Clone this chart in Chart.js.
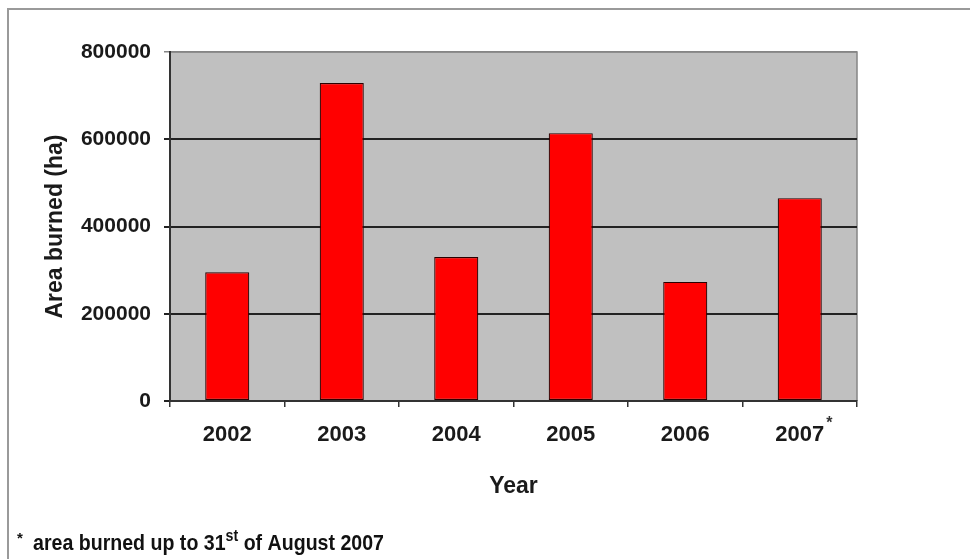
<!DOCTYPE html>
<html>
<head>
<meta charset="utf-8">
<script src="https://cdn.jsdelivr.net/npm/chart.js@4"></script>
<style>
html,body{margin:0;padding:0;background:#fff;}
#wrap{position:relative;width:970px;height:559px;}
</style>
</head>
<body>
<div id="wrap"><canvas id="c" width="970" height="559"></canvas></div>
<script>
const categories = ['2002', '2003', '2004', '2005', '2006', '2007'];
const areaBurned = [295000, 729000, 330000, 614000, 273000, 465000];
const yTicks = [0, 200000, 400000, 600000, 800000];
const xTitle = 'Year';
const yTitle = 'Area burned (ha)';
const footnote = ['*', 'area burned up to 31', 'st', ' of August 2007'];

const NARROW = '"Liberation Sans Narrow", "Arial Narrow", "Liberation Sans", Arial, sans-serif';
const WIDE = '"Liberation Sans", Arial, sans-serif';

const decor = {
  id: 'decor',
  beforeDraw(chart) {
    const ctx = chart.ctx, a = chart.chartArea;
    ctx.save();
    ctx.fillStyle = '#fff';
    ctx.fillRect(0, 0, chart.width, chart.height);
    // outer frame
    ctx.strokeStyle = '#9a9a9a';
    ctx.lineWidth = 2;
    ctx.beginPath();
    ctx.moveTo(8, 559); ctx.lineTo(8, 9); ctx.lineTo(970, 9);
    ctx.stroke();
    // plot background
    ctx.fillStyle = '#c0c0c0';
    ctx.fillRect(a.left, a.top, a.right - a.left, a.bottom - a.top);
    // plot border (top/right)
    ctx.strokeStyle = '#858585';
    ctx.lineWidth = 1.5;
    ctx.beginPath();
    ctx.moveTo(a.left, a.top); ctx.lineTo(a.right, a.top); ctx.lineTo(a.right, a.bottom);
    ctx.stroke();
    ctx.restore();
  },
  afterDraw(chart) {
    const ctx = chart.ctx;
    const xs = chart.scales.x;
    ctx.save();
    // asterisk next to last category label
    ctx.font = 'bold 22px ' + NARROW;
    const last = categories.length - 1;
    const w = ctx.measureText(categories[last]).width;
    const px = xs.getPixelForValue(last) + w / 2 + 2;
    ctx.fillStyle = '#333';
    ctx.font = 'bold 16px ' + WIDE;
    ctx.textBaseline = 'middle';
    ctx.fillText('*', px, 424);
    // footnote
    ctx.fillStyle = '#111';
    ctx.font = 'bold 15px ' + WIDE;
    ctx.textBaseline = 'alphabetic';
    ctx.fillText(footnote[0], 17, 543);
    const mainFont = 'bold 22px ' + WIDE;
    const supFont = 'bold 16px ' + WIDE;
    ctx.font = mainFont;
    const w1 = ctx.measureText(footnote[1]).width;
    const w3 = ctx.measureText(footnote[3]).width;
    ctx.font = supFont;
    const w2 = ctx.measureText(footnote[2]).width;
    const total = w1 + w2 + w3;
    const sx = (384 - 33) / total;
    ctx.translate(33, 550);
    ctx.scale(sx, 1);
    ctx.font = mainFont;
    ctx.fillText(footnote[1], 0, 0);
    ctx.font = supFont;
    ctx.fillText(footnote[2], w1, -9);
    ctx.font = mainFont;
    ctx.fillText(footnote[3], w1 + w2, 0);
    ctx.restore();
  }
};

new Chart(document.getElementById('c'), {
  type: 'bar',
  data: {
    labels: categories,
    datasets: [{
      data: areaBurned,
      backgroundColor: '#ff0000',
      borderColor: '#2a0000',
      borderWidth: 1.2,
      borderSkipped: false,
      categoryPercentage: 1,
      barPercentage: 0.385
    }]
  },
  options: {
    responsive: false,
    animation: false,
    devicePixelRatio: 1,
    layout: { padding: { left: 38, right: 113, top: 52, bottom: 58 } },
    plugins: { legend: { display: false }, tooltip: { enabled: false } },
    scales: {
      x: {
        offset: true,
        grid: { offset: true, drawOnChartArea: false, drawTicks: true, tickLength: 6, color: '#333', lineWidth: 1.5 },
        border: { display: true, color: '#333', width: 2 },
        ticks: { color: '#1a1a1a', font: { family: NARROW, size: 22, weight: 'bold' }, padding: 15 },
        title: { display: true, text: xTitle, color: '#1a1a1a', font: { family: NARROW, size: 23, weight: 'bold' }, padding: { top: 4, bottom: 1 } },
        afterFit(s) { s.height = 100; }
      },
      y: {
        min: 0, max: 800000,
        afterBuildTicks(s) { s.ticks = yTicks.map(v => ({ value: v })); },
        grid: {
          color: ctx => (ctx.tick && ctx.tick.value === 800000) ? '#858585' : '#222',
          lineWidth: ctx => (ctx.tick && ctx.tick.value === 800000) ? 1.5 : 2,
          drawTicks: true, tickLength: 6
        },
        border: { display: true, color: '#333', width: 2 },
        ticks: { color: '#1a1a1a', font: { family: NARROW, size: 21, weight: 'bold' }, padding: 13, callback: v => String(v) },
        title: { display: true, text: yTitle, color: '#1a1a1a', font: { family: WIDE, size: 23, weight: 'bold' }, padding: { top: 4, bottom: 4 } },
        afterFit(s) { s.width = 170 - 38; }
      }
    }
  },
  plugins: [decor]
});
</script>
</body>
</html>
